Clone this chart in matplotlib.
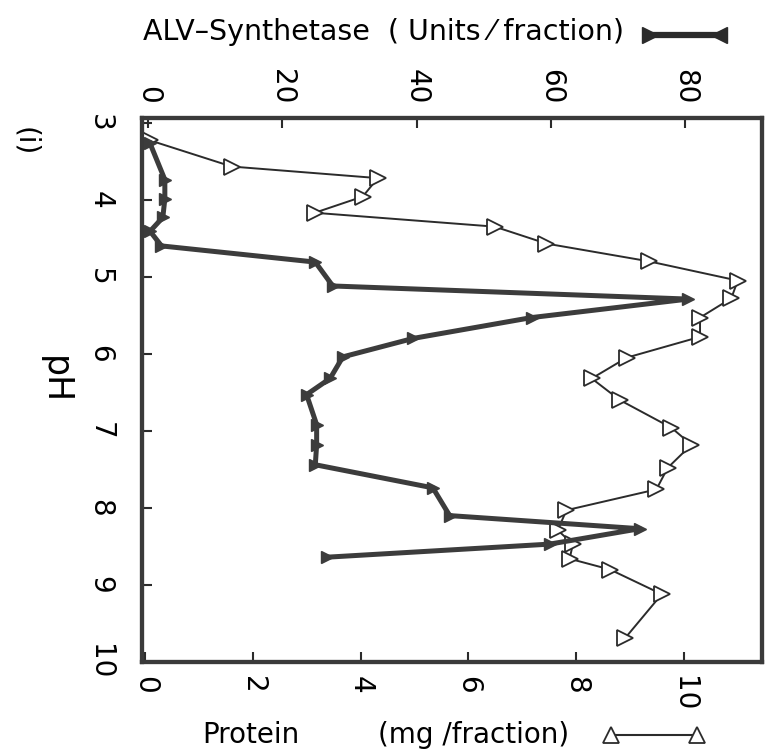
import numpy as np
import matplotlib
matplotlib.use("Agg")
import matplotlib.pyplot as plt
from matplotlib.lines import Line2D

plt.rcParams['font.family'] = ['DejaVu Sans']

# protein profile (mg / fraction) vs pH
prot_ph = [3.23, 3.57, 3.72, 3.96, 4.17, 4.35, 4.57, 4.80, 5.05, 5.28, 5.53, 5.78,
           6.05, 6.32, 6.60, 6.96, 7.18, 7.48, 7.76, 8.03, 8.29, 8.47, 8.66, 8.80,
           9.12, 9.69]
protein = [0.09, 1.61, 4.32, 4.04, 3.15, 6.49, 7.45, 9.35, 11.0, 10.88, 10.3, 10.3,
           8.94, 8.29, 8.81, 9.77, 10.14, 9.70, 9.49, 7.82, 7.66, 7.94, 7.88, 8.63,
           9.59, 8.91]

# ALV-synthetase activity (units / fraction) vs pH
syn_ph = [3.27, 3.74, 3.99, 4.23, 4.41, 4.60, 4.81, 5.12, 5.29, 5.53, 5.80, 6.04,
          6.32, 6.53, 6.92, 7.18, 7.44, 7.74, 8.10, 8.27, 8.47, 8.64]
synthetase = [0.3, 2.5, 2.5, 2.2, 0.3, 2.0, 24.9, 27.5, 80.4, 57.1, 39.5, 29.0,
              27.1, 23.6, 25.1, 25.1, 24.9, 42.4, 44.9, 73.2, 59.8, 26.6]

ph_ticks = [3, 4, 5, 6, 7, 8, 9, 10]
prot_ticks = [0, 2, 4, 6, 8, 10]
syn_ticks = [0, 20, 40, 60, 80]

W, H = 770, 754
fig = plt.figure(figsize=(W / 100, H / 100), dpi=100)
ax = fig.add_axes([142 / W, 1 - 662 / H, (762 - 142) / W, (662 - 118) / H])
ax2 = ax.twiny()

ink = '#2b2b2b'

ax.plot(protein, prot_ph, color=ink, lw=1.4, marker='>', ms=12,
        mfc='white', mec=ink, mew=1.3, zorder=3)
ax2.plot(synthetase, syn_ph, color='#3c3c3c', lw=3.6, marker='>', ms=8,
         mfc='#3c3c3c', mec='#3c3c3c', zorder=4)

ax.set_xlim(-0.056, 11.45)
ax2.set_xlim(-0.9, 91.4)
ax.set_ylim(9.95, 2.94)

ax.set_yticks(ph_ticks)
ax.set_xticks(prot_ticks)
ax2.set_xticks(syn_ticks)

for a in (ax, ax2):
    for s in a.spines.values():
        s.set_linewidth(3)
        s.set_color('#3a3a3a')

ax.tick_params(axis='both', direction='in', length=7, width=1.5, colors=ink,
               labelsize=20, top=False, right=False)
ax.tick_params(axis='x', pad=10)
ax.tick_params(axis='y', pad=30)
ax2.tick_params(axis='x', direction='in', length=7, width=1.5, colors=ink,
                labelsize=20, pad=10)

for lab in ax.get_xticklabels() + ax.get_yticklabels() + ax2.get_xticklabels():
    lab.set_rotation(270)
    lab.set_color('black')
for lab in ax.get_yticklabels():
    lab.set_va('center')
    lab.set_ha('center')
for lab in ax.get_xticklabels():
    lab.set_ha('center')
    lab.set_va('top')
for lab in ax2.get_xticklabels():
    lab.set_ha('center')
    lab.set_va('bottom')

# titles (horizontal) and rotated labels
fig.text(143 / W, 1 - 32 / H, 'ALV\u2013Synthetase  ( Units \u2044 fraction)',
         fontsize=20.5, va='center', ha='left')
fig.text(202 / W, 1 - 735 / H, 'Protein', fontsize=20, va='center', ha='left')
fig.text(378 / W, 1 - 735 / H, '(mg /fraction)', fontsize=20, va='center', ha='left')
fig.text(55 / W, 1 - 380 / H, 'pH', fontsize=25, rotation=270, va='center', ha='center')
fig.text(25 / W, 1 - 142 / H, '(i)', fontsize=20, rotation=270, va='center', ha='center')

# legend keys next to the titles
fig.add_artist(Line2D([647 / W, 722 / W], [1 - 35 / H, 1 - 35 / H], color=ink, lw=4.5,
                      transform=fig.transFigure))
fig.add_artist(Line2D([650 / W], [1 - 35 / H], marker='>', ms=11, color=ink,
                      transform=fig.transFigure))
fig.add_artist(Line2D([719 / W], [1 - 35 / H], marker='<', ms=11, color=ink,
                      transform=fig.transFigure))
fig.add_artist(Line2D([611 / W, 697 / W], [1 - 735 / H, 1 - 735 / H], color=ink, lw=1.5,
                      marker='^', ms=11, mfc='white', mec=ink, mew=1.3,
                      transform=fig.transFigure))

fig.savefig('out.png', dpi=100)
